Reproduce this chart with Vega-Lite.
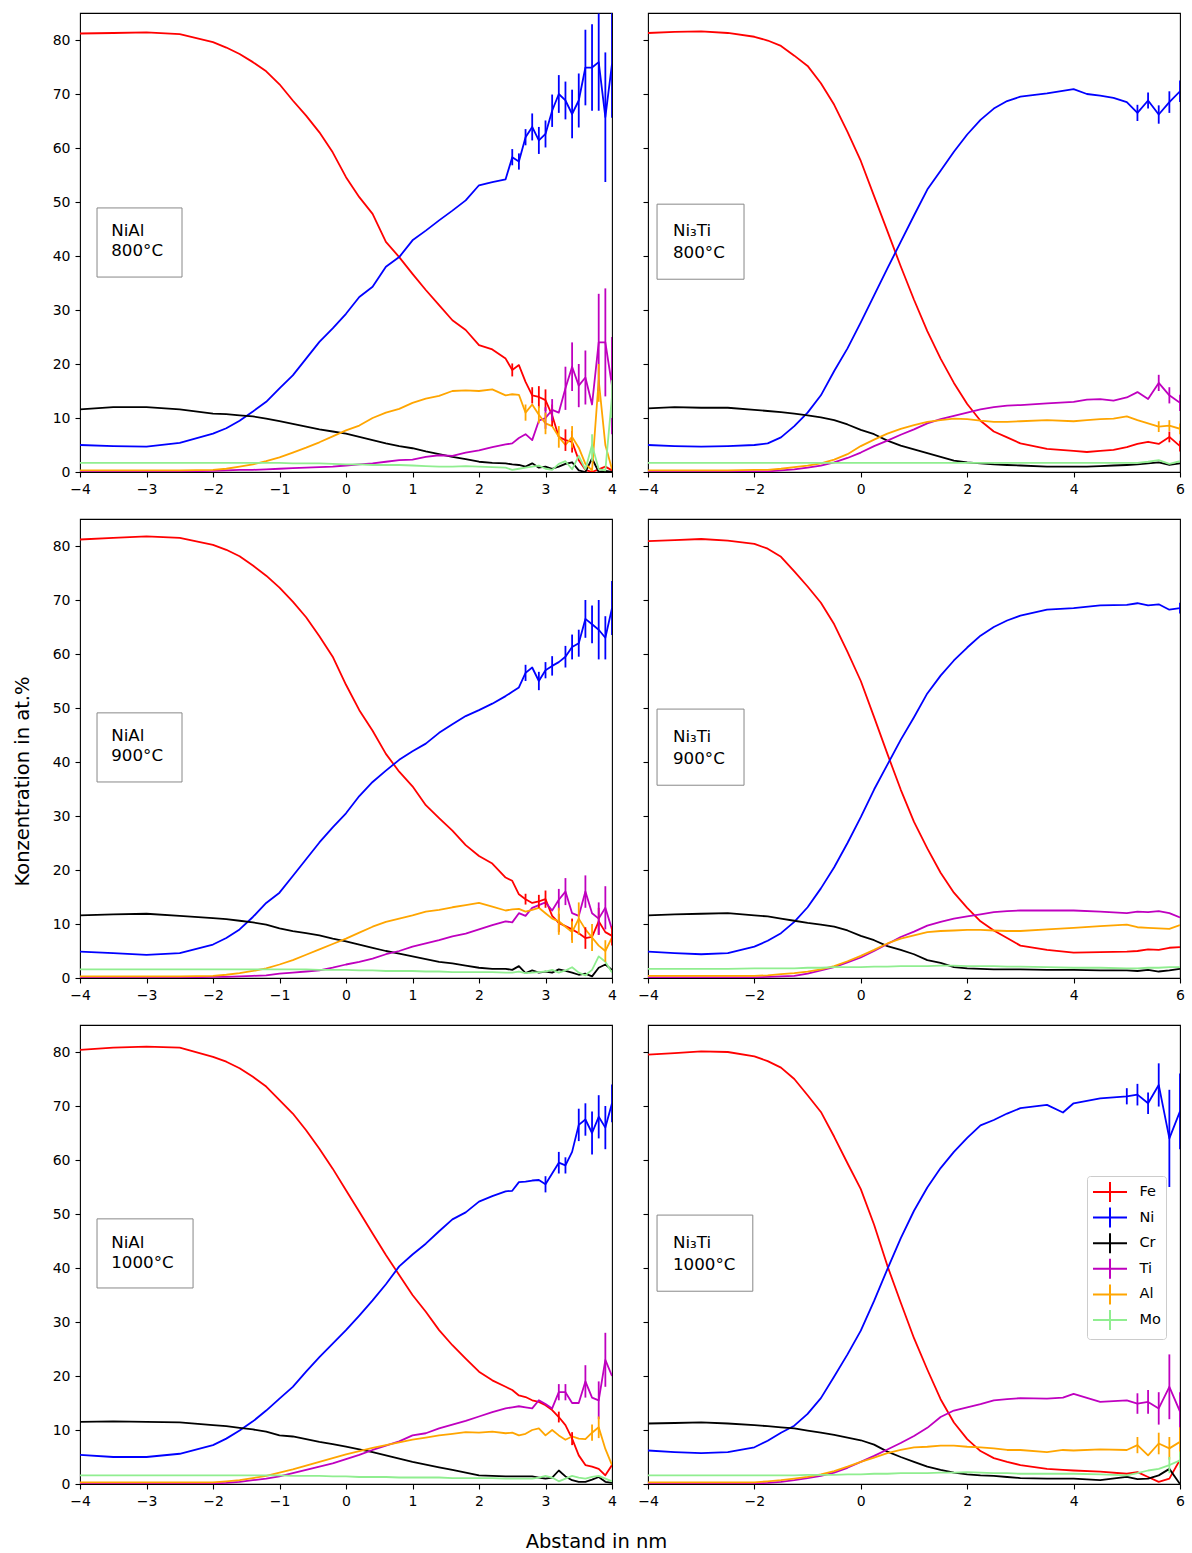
{
"$schema": "https://vega.github.io/schema/vega-lite/v6.json",
"background": "white",
"padding": {"left": 11, "top": 12, "right": 6, "bottom": 1},
"config": {
 "font": "DejaVu Sans",
 "view": {"stroke": "#000", "strokeWidth": 1.1},
 "axis": {"grid": false, "domain": false, "tickColor": "#000", "tickSize": 5, "tickWidth": 1.1, "labelFontSize": 14, "labelColor": "#000", "labelPadding": 5, "labelFlush": false, "labelOverlap": false, "labelBound": false, "titleFontWeight": "normal", "titleColor": "#000", "titleFontSize": 19.5}
},
"datasets": {
 "a": [
  {"x":-4,"Fe":81.2,"Ni":5.0,"Cr":11.6,"Ti":0.1,"Al":0.3,"Mo":1.7},
  {"x":-3.5,"Fe":81.3,"Ni":4.8,"Cr":12.0,"Ti":0.1,"Al":0.3,"Mo":1.7},
  {"x":-3,"Fe":81.4,"Ni":4.7,"Cr":12.0,"Ti":0.1,"Al":0.3,"Mo":1.7},
  {"x":-2.5,"Fe":81.1,"Ni":5.4,"Cr":11.6,"Ti":0.1,"Al":0.3,"Mo":1.7},
  {"x":-2,"Fe":79.6,"Ni":7.1,"Cr":10.8,"Ti":0.2,"Al":0.4,"Mo":1.7},
  {"x":-1.8,"Fe":78.6,"Ni":8.1,"Cr":10.7,"Ti":0.3,"Al":0.6,"Mo":1.7},
  {"x":-1.6,"Fe":77.4,"Ni":9.5,"Cr":10.5,"Ti":0.4,"Al":1.0,"Mo":1.7},
  {"x":-1.4,"Fe":75.9,"Ni":11.2,"Cr":10.3,"Ti":0.4,"Al":1.4,"Mo":1.7},
  {"x":-1.2,"Fe":74.2,"Ni":13.0,"Cr":9.9,"Ti":0.5,"Al":2.0,"Mo":1.7},
  {"x":-1,"Fe":71.8,"Ni":15.5,"Cr":9.4,"Ti":0.6,"Al":2.7,"Mo":1.7},
  {"x":-0.8,"Fe":68.8,"Ni":17.9,"Cr":8.9,"Ti":0.7,"Al":3.6,"Mo":1.6},
  {"x":-0.6,"Fe":66.0,"Ni":21.0,"Cr":8.4,"Ti":0.8,"Al":4.5,"Mo":1.6},
  {"x":-0.4,"Fe":62.9,"Ni":24.1,"Cr":7.9,"Ti":0.9,"Al":5.5,"Mo":1.6},
  {"x":-0.2,"Fe":59.2,"Ni":26.6,"Cr":7.5,"Ti":1.0,"Al":6.6,"Mo":1.5},
  {"x":0,"Fe":54.6,"Ni":29.3,"Cr":7.1,"Ti":1.2,"Al":7.7,"Mo":1.4},
  {"x":0.2,"Fe":50.9,"Ni":32.4,"Cr":6.5,"Ti":1.4,"Al":8.6,"Mo":1.4},
  {"x":0.4,"Fe":47.8,"Ni":34.3,"Cr":5.9,"Ti":1.6,"Al":10.0,"Mo":1.3},
  {"x":0.6,"Fe":42.6,"Ni":38.0,"Cr":5.3,"Ti":1.9,"Al":11.0,"Mo":1.3},
  {"x":0.8,"Fe":39.8,"Ni":39.8,"Cr":4.8,"Ti":2.2,"Al":11.7,"Mo":1.3},
  {"x":1,"Fe":36.7,"Ni":42.9,"Cr":4.4,"Ti":2.3,"Al":12.8,"Mo":1.2},
  {"x":1.2,"Fe":33.7,"Ni":44.7,"Cr":3.8,"Ti":2.8,"Al":13.6,"Mo":1.1},
  {"x":1.4,"Fe":30.9,"Ni":46.6,"Cr":3.3,"Ti":3.1,"Al":14.1,"Mo":1.0},
  {"x":1.6,"Fe":28.1,"Ni":48.4,"Cr":2.8,"Ti":3.0,"Al":15.0,"Mo":1.0},
  {"x":1.8,"Fe":26.3,"Ni":50.3,"Cr":2.4,"Ti":3.6,"Al":15.1,"Mo":1.1},
  {"x":2,"Fe":23.5,"Ni":53.1,"Cr":1.9,"Ti":4.0,"Al":15.0,"Mo":1.0},
  {"x":2.2,"Fe":22.7,"Ni":53.7,"Cr":1.7,"Ti":4.6,"Al":15.3,"Mo":0.9},
  {"x":2.4,"Fe":21.0,"Ni":54.2,"Cr":1.6,"Ti":5.1,"Al":14.2,"Mo":0.8},
  {"x":2.5,"Fe":18.9,"Ni":58.3,"Cr":1.4,"Ti":5.3,"Al":14.4,"Mo":0.4},
  {"x":2.6,"Fe":19.8,"Ni":57.5,"Cr":1.3,"Ti":6.3,"Al":14.3,"Mo":0.6},
  {"x":2.7,"Fe":16.7,"Ni":62.0,"Cr":1.0,"Ti":7.0,"Al":11.0,"Mo":0.8},
  {"x":2.8,"Fe":14.2,"Ni":63.9,"Cr":1.6,"Ti":5.9,"Al":12.5,"Mo":1.0},
  {"x":2.9,"Fe":13.9,"Ni":61.4,"Cr":0.8,"Ti":9.5,"Al":10.6,"Mo":1.2},
  {"x":3,"Fe":13.3,"Ni":62.6,"Cr":1.0,"Ti":10.0,"Al":9.0,"Mo":0.6},
  {"x":3.1,"Fe":10.5,"Ni":66.9,"Cr":0.6,"Ti":11.5,"Al":8.5,"Mo":0.4},
  {"x":3.2,"Fe":6.5,"Ni":70.0,"Cr":1.0,"Ti":11.0,"Al":6.5,"Mo":1.5},
  {"x":3.3,"Fe":5.9,"Ni":68.8,"Cr":1.5,"Ti":15.5,"Al":5.0,"Mo":2.0},
  {"x":3.4,"Fe":5.6,"Ni":66.3,"Cr":1.8,"Ti":19.5,"Al":6.5,"Mo":0.5},
  {"x":3.5,"Fe":2.2,"Ni":68.8,"Cr":0.3,"Ti":16.0,"Al":4.5,"Mo":3.0},
  {"x":3.6,"Fe":0.4,"Ni":74.9,"Cr":0.0,"Ti":17.5,"Al":1.5,"Mo":0.5},
  {"x":3.7,"Fe":0.0,"Ni":74.9,"Cr":2.5,"Ti":12.5,"Al":0.3,"Mo":5.0},
  {"x":3.8,"Fe":0.5,"Ni":75.9,"Cr":0.0,"Ti":24.0,"Al":17.0,"Mo":0.5},
  {"x":3.9,"Fe":1.0,"Ni":65.7,"Cr":0.2,"Ti":24.0,"Al":5.0,"Mo":0.3},
  {"x":4,"Fe":0.3,"Ni":75.6,"Cr":0.0,"Ti":16.0,"Al":0.5,"Mo":14.0}
 ],
 "c": [
  {"x":-4,"Fe":81.2,"Ni":4.9,"Cr":11.6,"Ti":0.1,"Al":0.3,"Mo":1.6},
  {"x":-3.5,"Fe":81.5,"Ni":4.6,"Cr":11.8,"Ti":0.1,"Al":0.3,"Mo":1.6},
  {"x":-3,"Fe":81.8,"Ni":4.3,"Cr":11.9,"Ti":0.1,"Al":0.3,"Mo":1.6},
  {"x":-2.5,"Fe":81.5,"Ni":4.6,"Cr":11.5,"Ti":0.1,"Al":0.3,"Mo":1.6},
  {"x":-2,"Fe":80.2,"Ni":6.2,"Cr":11.1,"Ti":0.2,"Al":0.4,"Mo":1.6},
  {"x":-1.8,"Fe":79.3,"Ni":7.4,"Cr":10.9,"Ti":0.2,"Al":0.6,"Mo":1.6},
  {"x":-1.6,"Fe":78.1,"Ni":9.0,"Cr":10.6,"Ti":0.3,"Al":0.9,"Mo":1.6},
  {"x":-1.4,"Fe":76.4,"Ni":11.3,"Cr":10.3,"Ti":0.4,"Al":1.3,"Mo":1.6},
  {"x":-1.2,"Fe":74.5,"Ni":13.9,"Cr":9.9,"Ti":0.5,"Al":1.8,"Mo":1.6},
  {"x":-1,"Fe":72.3,"Ni":15.8,"Cr":9.2,"Ti":0.8,"Al":2.5,"Mo":1.6},
  {"x":-0.8,"Fe":69.7,"Ni":18.9,"Cr":8.7,"Ti":1.0,"Al":3.3,"Mo":1.6},
  {"x":-0.6,"Fe":66.8,"Ni":22.0,"Cr":8.3,"Ti":1.2,"Al":4.3,"Mo":1.6},
  {"x":-0.4,"Fe":63.3,"Ni":25.1,"Cr":7.9,"Ti":1.4,"Al":5.3,"Mo":1.5},
  {"x":-0.2,"Fe":59.5,"Ni":27.9,"Cr":7.3,"Ti":1.9,"Al":6.3,"Mo":1.5},
  {"x":0,"Fe":54.3,"Ni":30.5,"Cr":6.8,"Ti":2.5,"Al":7.3,"Mo":1.5},
  {"x":0.2,"Fe":49.6,"Ni":33.7,"Cr":6.2,"Ti":3.0,"Al":8.4,"Mo":1.4},
  {"x":0.4,"Fe":45.8,"Ni":36.3,"Cr":5.6,"Ti":3.6,"Al":9.5,"Mo":1.4},
  {"x":0.6,"Fe":41.5,"Ni":38.4,"Cr":5.0,"Ti":4.4,"Al":10.4,"Mo":1.3},
  {"x":0.8,"Fe":38.2,"Ni":40.4,"Cr":4.5,"Ti":5.0,"Al":11.0,"Mo":1.3},
  {"x":1,"Fe":35.5,"Ni":42.0,"Cr":4.0,"Ti":5.8,"Al":11.6,"Mo":1.3},
  {"x":1.2,"Fe":32.0,"Ni":43.4,"Cr":3.5,"Ti":6.4,"Al":12.3,"Mo":1.2},
  {"x":1.4,"Fe":29.6,"Ni":45.4,"Cr":3.0,"Ti":7.0,"Al":12.6,"Mo":1.2},
  {"x":1.6,"Fe":27.3,"Ni":47.0,"Cr":2.7,"Ti":7.7,"Al":13.1,"Mo":1.1},
  {"x":1.8,"Fe":24.6,"Ni":48.5,"Cr":2.3,"Ti":8.2,"Al":13.5,"Mo":1.1},
  {"x":2,"Fe":22.6,"Ni":49.6,"Cr":1.9,"Ti":9.0,"Al":13.9,"Mo":1.1},
  {"x":2.2,"Fe":21.2,"Ni":50.8,"Cr":1.7,"Ti":9.8,"Al":13.2,"Mo":1.1},
  {"x":2.4,"Fe":18.6,"Ni":52.2,"Cr":1.7,"Ti":10.5,"Al":12.5,"Mo":1.0},
  {"x":2.5,"Fe":18.0,"Ni":53.0,"Cr":1.5,"Ti":10.3,"Al":12.7,"Mo":1.0},
  {"x":2.6,"Fe":15.5,"Ni":53.8,"Cr":2.2,"Ti":12.0,"Al":12.8,"Mo":1.2},
  {"x":2.7,"Fe":14.6,"Ni":56.5,"Cr":0.9,"Ti":11.5,"Al":12.3,"Mo":0.9},
  {"x":2.8,"Fe":13.9,"Ni":57.5,"Cr":1.4,"Ti":13.0,"Al":12.6,"Mo":1.0},
  {"x":2.9,"Fe":14.2,"Ni":55.0,"Cr":1.0,"Ti":13.5,"Al":13.0,"Mo":1.1},
  {"x":3,"Fe":14.6,"Ni":57.0,"Cr":1.2,"Ti":14.0,"Al":12.0,"Mo":1.2},
  {"x":3.1,"Fe":11.5,"Ni":57.8,"Cr":1.0,"Ti":12.5,"Al":11.0,"Mo":1.5},
  {"x":3.2,"Fe":10.2,"Ni":58.5,"Cr":1.6,"Ti":14.5,"Al":10.5,"Mo":1.0},
  {"x":3.3,"Fe":9.6,"Ni":59.5,"Cr":1.3,"Ti":16.0,"Al":9.5,"Mo":1.4},
  {"x":3.4,"Fe":9.0,"Ni":61.3,"Cr":1.0,"Ti":12.0,"Al":8.5,"Mo":2.0},
  {"x":3.5,"Fe":8.3,"Ni":62.0,"Cr":0.6,"Ti":11.5,"Al":11.0,"Mo":1.0},
  {"x":3.6,"Fe":7.4,"Ni":66.5,"Cr":0.8,"Ti":16.0,"Al":9.0,"Mo":0.5},
  {"x":3.7,"Fe":7.6,"Ni":65.5,"Cr":0.3,"Ti":12.0,"Al":7.5,"Mo":1.5},
  {"x":3.8,"Fe":10.5,"Ni":64.5,"Cr":1.9,"Ti":11.0,"Al":6.0,"Mo":4.0},
  {"x":3.9,"Fe":8.5,"Ni":63.0,"Cr":2.5,"Ti":13.0,"Al":5.0,"Mo":3.0},
  {"x":4,"Fe":7.8,"Ni":68.5,"Cr":1.5,"Ti":9.0,"Al":7.5,"Mo":1.0}
 ],
 "e": [
  {"x":-4,"Fe":80.4,"Ni":5.4,"Cr":11.5,"Ti":0.1,"Al":0.3,"Mo":1.6},
  {"x":-3.5,"Fe":80.8,"Ni":5.0,"Cr":11.6,"Ti":0.1,"Al":0.3,"Mo":1.6},
  {"x":-3,"Fe":81.0,"Ni":5.0,"Cr":11.5,"Ti":0.1,"Al":0.3,"Mo":1.6},
  {"x":-2.5,"Fe":80.8,"Ni":5.6,"Cr":11.4,"Ti":0.1,"Al":0.3,"Mo":1.6},
  {"x":-2,"Fe":79.1,"Ni":7.2,"Cr":10.9,"Ti":0.1,"Al":0.3,"Mo":1.6},
  {"x":-1.8,"Fe":78.2,"Ni":8.4,"Cr":10.7,"Ti":0.2,"Al":0.5,"Mo":1.6},
  {"x":-1.6,"Fe":77.0,"Ni":9.9,"Cr":10.4,"Ti":0.4,"Al":0.7,"Mo":1.6},
  {"x":-1.4,"Fe":75.4,"Ni":11.6,"Cr":10.1,"Ti":0.7,"Al":1.1,"Mo":1.6},
  {"x":-1.2,"Fe":73.6,"Ni":13.6,"Cr":9.7,"Ti":1.0,"Al":1.5,"Mo":1.6},
  {"x":-1,"Fe":71.1,"Ni":15.8,"Cr":9.0,"Ti":1.4,"Al":2.1,"Mo":1.6},
  {"x":-0.8,"Fe":68.6,"Ni":18.0,"Cr":8.8,"Ti":2.0,"Al":2.7,"Mo":1.5},
  {"x":-0.6,"Fe":65.5,"Ni":20.8,"Cr":8.3,"Ti":2.6,"Al":3.4,"Mo":1.5},
  {"x":-0.4,"Fe":62.1,"Ni":23.5,"Cr":7.8,"Ti":3.2,"Al":4.1,"Mo":1.5},
  {"x":-0.2,"Fe":58.4,"Ni":26.0,"Cr":7.4,"Ti":3.8,"Al":4.8,"Mo":1.4},
  {"x":0,"Fe":54.4,"Ni":28.5,"Cr":6.9,"Ti":4.6,"Al":5.5,"Mo":1.4},
  {"x":0.2,"Fe":50.4,"Ni":31.2,"Cr":6.4,"Ti":5.4,"Al":6.1,"Mo":1.3},
  {"x":0.4,"Fe":46.4,"Ni":34.0,"Cr":5.9,"Ti":6.3,"Al":6.7,"Mo":1.3},
  {"x":0.6,"Fe":42.4,"Ni":37.0,"Cr":5.3,"Ti":7.1,"Al":7.2,"Mo":1.3},
  {"x":0.8,"Fe":38.7,"Ni":40.3,"Cr":4.7,"Ti":7.9,"Al":7.7,"Mo":1.2},
  {"x":1,"Fe":35.0,"Ni":42.5,"Cr":4.1,"Ti":9.0,"Al":8.2,"Mo":1.2},
  {"x":1.2,"Fe":31.9,"Ni":44.5,"Cr":3.6,"Ti":9.4,"Al":8.6,"Mo":1.2},
  {"x":1.4,"Fe":28.5,"Ni":46.8,"Cr":3.1,"Ti":10.3,"Al":9.0,"Mo":1.2},
  {"x":1.6,"Fe":25.7,"Ni":49.0,"Cr":2.6,"Ti":11.0,"Al":9.3,"Mo":1.1},
  {"x":1.8,"Fe":23.2,"Ni":50.3,"Cr":2.1,"Ti":11.7,"Al":9.6,"Mo":1.1},
  {"x":2,"Fe":20.8,"Ni":52.3,"Cr":1.6,"Ti":12.5,"Al":9.5,"Mo":1.1},
  {"x":2.2,"Fe":19.2,"Ni":53.3,"Cr":1.5,"Ti":13.3,"Al":9.7,"Mo":1.1},
  {"x":2.4,"Fe":18.0,"Ni":54.2,"Cr":1.4,"Ti":14.0,"Al":9.4,"Mo":1.0},
  {"x":2.5,"Fe":17.4,"Ni":54.3,"Cr":1.4,"Ti":14.2,"Al":9.5,"Mo":1.0},
  {"x":2.6,"Fe":16.4,"Ni":55.9,"Cr":1.4,"Ti":14.4,"Al":9.0,"Mo":1.0},
  {"x":2.7,"Fe":16.1,"Ni":56.0,"Cr":1.4,"Ti":14.2,"Al":9.3,"Mo":1.0},
  {"x":2.8,"Fe":15.5,"Ni":56.2,"Cr":1.4,"Ti":14.0,"Al":10.0,"Mo":1.0},
  {"x":2.9,"Fe":15.2,"Ni":56.3,"Cr":1.2,"Ti":15.5,"Al":10.3,"Mo":1.2},
  {"x":3,"Fe":14.6,"Ni":55.5,"Cr":1.0,"Ti":14.8,"Al":9.0,"Mo":1.5},
  {"x":3.1,"Fe":13.7,"Ni":57.5,"Cr":1.2,"Ti":14.0,"Al":10.0,"Mo":1.2},
  {"x":3.2,"Fe":12.4,"Ni":59.5,"Cr":2.5,"Ti":17.0,"Al":9.0,"Mo":0.5},
  {"x":3.3,"Fe":10.9,"Ni":59.0,"Cr":1.4,"Ti":17.0,"Al":8.2,"Mo":1.0},
  {"x":3.4,"Fe":8.4,"Ni":61.5,"Cr":0.7,"Ti":15.0,"Al":8.8,"Mo":1.5},
  {"x":3.5,"Fe":5.3,"Ni":66.5,"Cr":0.4,"Ti":15.0,"Al":8.4,"Mo":1.2},
  {"x":3.6,"Fe":3.5,"Ni":67.5,"Cr":0.4,"Ti":19.0,"Al":8.3,"Mo":1.0},
  {"x":3.7,"Fe":3.2,"Ni":65.0,"Cr":0.8,"Ti":16.0,"Al":9.5,"Mo":1.3},
  {"x":3.8,"Fe":2.8,"Ni":68.0,"Cr":1.3,"Ti":15.5,"Al":10.5,"Mo":1.5},
  {"x":3.9,"Fe":1.6,"Ni":66.0,"Cr":0.4,"Ti":23.0,"Al":6.5,"Mo":1.0},
  {"x":4,"Fe":3.5,"Ni":70.5,"Cr":0.2,"Ti":20.0,"Al":3.5,"Mo":0.5}
 ],
 "b": [
  {"x":-4,"Fe":81.3,"Ni":5.0,"Cr":11.8,"Ti":0.1,"Al":0.3,"Mo":1.7},
  {"x":-3.5,"Fe":81.5,"Ni":4.8,"Cr":12.0,"Ti":0.1,"Al":0.3,"Mo":1.7},
  {"x":-3,"Fe":81.6,"Ni":4.7,"Cr":11.9,"Ti":0.1,"Al":0.3,"Mo":1.7},
  {"x":-2.5,"Fe":81.3,"Ni":4.8,"Cr":11.9,"Ti":0.1,"Al":0.3,"Mo":1.7},
  {"x":-2,"Fe":80.6,"Ni":5.0,"Cr":11.5,"Ti":0.1,"Al":0.4,"Mo":1.7},
  {"x":-1.75,"Fe":79.9,"Ni":5.3,"Cr":11.3,"Ti":0.1,"Al":0.4,"Mo":1.7},
  {"x":-1.5,"Fe":78.9,"Ni":6.4,"Cr":11.1,"Ti":0.3,"Al":0.6,"Mo":1.7},
  {"x":-1.25,"Fe":77.1,"Ni":8.5,"Cr":10.8,"Ti":0.5,"Al":0.9,"Mo":1.7},
  {"x":-1,"Fe":75.2,"Ni":11.0,"Cr":10.5,"Ti":0.8,"Al":1.2,"Mo":1.7},
  {"x":-0.75,"Fe":72.0,"Ni":14.2,"Cr":10.1,"Ti":1.2,"Al":1.6,"Mo":1.7},
  {"x":-0.5,"Fe":68.0,"Ni":18.7,"Cr":9.6,"Ti":1.8,"Al":2.3,"Mo":1.7},
  {"x":-0.25,"Fe":63.0,"Ni":22.9,"Cr":8.8,"Ti":2.6,"Al":3.3,"Mo":1.7},
  {"x":0,"Fe":57.6,"Ni":27.7,"Cr":7.8,"Ti":3.6,"Al":4.8,"Mo":1.7},
  {"x":0.25,"Fe":51.1,"Ni":32.7,"Cr":7.0,"Ti":4.8,"Al":6.0,"Mo":1.7},
  {"x":0.5,"Fe":44.6,"Ni":37.7,"Cr":5.8,"Ti":5.8,"Al":7.1,"Mo":1.7},
  {"x":0.75,"Fe":38.1,"Ni":42.6,"Cr":4.9,"Ti":6.9,"Al":8.0,"Mo":1.7},
  {"x":1,"Fe":31.9,"Ni":47.5,"Cr":4.2,"Ti":7.9,"Al":8.7,"Mo":1.7},
  {"x":1.25,"Fe":26.1,"Ni":52.3,"Cr":3.5,"Ti":9.0,"Al":9.3,"Mo":1.7},
  {"x":1.5,"Fe":21.0,"Ni":55.8,"Cr":2.8,"Ti":9.8,"Al":9.6,"Mo":1.7},
  {"x":1.75,"Fe":16.5,"Ni":59.3,"Cr":2.1,"Ti":10.4,"Al":9.9,"Mo":1.7},
  {"x":2,"Fe":12.6,"Ni":62.5,"Cr":1.8,"Ti":11.0,"Al":9.8,"Mo":1.7},
  {"x":2.25,"Fe":9.5,"Ni":65.2,"Cr":1.6,"Ti":11.6,"Al":9.5,"Mo":1.7},
  {"x":2.5,"Fe":7.5,"Ni":67.3,"Cr":1.4,"Ti":12.0,"Al":9.3,"Mo":1.7},
  {"x":2.75,"Fe":6.4,"Ni":68.7,"Cr":1.3,"Ti":12.3,"Al":9.3,"Mo":1.7},
  {"x":3,"Fe":5.3,"Ni":69.5,"Cr":1.2,"Ti":12.4,"Al":9.4,"Mo":1.7},
  {"x":3.5,"Fe":4.3,"Ni":70.1,"Cr":1.0,"Ti":12.7,"Al":9.6,"Mo":1.7},
  {"x":4,"Fe":3.9,"Ni":70.9,"Cr":1.0,"Ti":13.0,"Al":9.4,"Mo":1.7},
  {"x":4.25,"Fe":3.7,"Ni":70.0,"Cr":1.0,"Ti":13.4,"Al":9.6,"Mo":1.7},
  {"x":4.5,"Fe":3.9,"Ni":69.7,"Cr":1.1,"Ti":13.5,"Al":9.8,"Mo":1.7},
  {"x":4.75,"Fe":4.1,"Ni":69.3,"Cr":1.2,"Ti":13.2,"Al":9.9,"Mo":1.7},
  {"x":5,"Fe":4.6,"Ni":68.5,"Cr":1.3,"Ti":13.8,"Al":10.3,"Mo":1.7},
  {"x":5.2,"Fe":5.2,"Ni":66.5,"Cr":1.4,"Ti":14.8,"Al":9.6,"Mo":1.7},
  {"x":5.4,"Fe":5.6,"Ni":68.8,"Cr":1.6,"Ti":13.5,"Al":9.0,"Mo":1.9},
  {"x":5.6,"Fe":5.2,"Ni":66.2,"Cr":1.8,"Ti":16.5,"Al":8.4,"Mo":2.2},
  {"x":5.8,"Fe":6.5,"Ni":68.5,"Cr":1.3,"Ti":14.2,"Al":8.6,"Mo":1.5},
  {"x":6,"Fe":4.8,"Ni":70.5,"Cr":1.6,"Ti":12.8,"Al":8.0,"Mo":2.0}
 ],
 "d": [
  {"x":-4,"Fe":80.9,"Ni":4.9,"Cr":11.6,"Ti":0.1,"Al":0.4,"Mo":1.7},
  {"x":-3.5,"Fe":81.1,"Ni":4.6,"Cr":11.8,"Ti":0.1,"Al":0.4,"Mo":1.7},
  {"x":-3,"Fe":81.3,"Ni":4.4,"Cr":11.9,"Ti":0.1,"Al":0.4,"Mo":1.7},
  {"x":-2.5,"Fe":81.0,"Ni":4.6,"Cr":12.0,"Ti":0.1,"Al":0.4,"Mo":1.7},
  {"x":-2,"Fe":80.4,"Ni":5.8,"Cr":11.6,"Ti":0.1,"Al":0.4,"Mo":1.8},
  {"x":-1.75,"Fe":79.5,"Ni":6.9,"Cr":11.4,"Ti":0.2,"Al":0.5,"Mo":1.8},
  {"x":-1.5,"Fe":78.0,"Ni":8.3,"Cr":11.0,"Ti":0.3,"Al":0.7,"Mo":1.8},
  {"x":-1.25,"Fe":75.3,"Ni":10.4,"Cr":10.6,"Ti":0.4,"Al":0.9,"Mo":1.8},
  {"x":-1,"Fe":72.5,"Ni":13.1,"Cr":10.2,"Ti":0.8,"Al":1.2,"Mo":1.9},
  {"x":-0.75,"Fe":69.5,"Ni":16.6,"Cr":9.9,"Ti":1.4,"Al":1.6,"Mo":1.9},
  {"x":-0.5,"Fe":65.5,"Ni":20.5,"Cr":9.5,"Ti":2.0,"Al":2.2,"Mo":2.0},
  {"x":-0.25,"Fe":60.4,"Ni":25.0,"Cr":8.8,"Ti":2.9,"Al":3.1,"Mo":2.0},
  {"x":0,"Fe":55.0,"Ni":29.8,"Cr":7.8,"Ti":3.8,"Al":4.1,"Mo":2.0},
  {"x":0.25,"Fe":48.3,"Ni":34.9,"Cr":7.0,"Ti":5.0,"Al":5.2,"Mo":2.1},
  {"x":0.5,"Fe":41.5,"Ni":39.5,"Cr":5.9,"Ti":6.3,"Al":6.4,"Mo":2.1},
  {"x":0.75,"Fe":34.9,"Ni":44.1,"Cr":5.2,"Ti":7.6,"Al":7.3,"Mo":2.2},
  {"x":1,"Fe":28.9,"Ni":48.3,"Cr":4.4,"Ti":8.6,"Al":7.9,"Mo":2.2},
  {"x":1.25,"Fe":24.0,"Ni":52.7,"Cr":3.3,"Ti":9.7,"Al":8.5,"Mo":2.2},
  {"x":1.5,"Fe":19.5,"Ni":56.0,"Cr":2.8,"Ti":10.4,"Al":8.7,"Mo":2.3},
  {"x":1.75,"Fe":15.8,"Ni":58.8,"Cr":2.0,"Ti":11.0,"Al":8.8,"Mo":2.3},
  {"x":2,"Fe":13.0,"Ni":61.2,"Cr":1.8,"Ti":11.4,"Al":8.9,"Mo":2.2},
  {"x":2.25,"Fe":10.5,"Ni":63.4,"Cr":1.7,"Ti":11.8,"Al":8.9,"Mo":2.2},
  {"x":2.5,"Fe":8.8,"Ni":65.0,"Cr":1.6,"Ti":12.2,"Al":8.8,"Mo":2.2},
  {"x":2.75,"Fe":7.4,"Ni":66.2,"Cr":1.6,"Ti":12.4,"Al":8.7,"Mo":2.1},
  {"x":3,"Fe":6.0,"Ni":67.1,"Cr":1.6,"Ti":12.5,"Al":8.7,"Mo":2.1},
  {"x":3.5,"Fe":5.2,"Ni":68.2,"Cr":1.5,"Ti":12.5,"Al":9.0,"Mo":2.0},
  {"x":4,"Fe":4.7,"Ni":68.5,"Cr":1.5,"Ti":12.5,"Al":9.3,"Mo":1.9},
  {"x":4.5,"Fe":4.8,"Ni":69.0,"Cr":1.4,"Ti":12.3,"Al":9.6,"Mo":1.9},
  {"x":5,"Fe":4.9,"Ni":69.1,"Cr":1.4,"Ti":12.0,"Al":9.9,"Mo":1.8},
  {"x":5.2,"Fe":5.0,"Ni":69.4,"Cr":1.3,"Ti":12.3,"Al":9.4,"Mo":1.8},
  {"x":5.4,"Fe":5.3,"Ni":69.0,"Cr":1.5,"Ti":12.2,"Al":9.3,"Mo":1.9},
  {"x":5.6,"Fe":5.2,"Ni":69.2,"Cr":1.2,"Ti":12.4,"Al":9.2,"Mo":1.9},
  {"x":5.8,"Fe":5.6,"Ni":68.2,"Cr":1.4,"Ti":12.0,"Al":9.1,"Mo":2.0},
  {"x":6,"Fe":5.7,"Ni":68.5,"Cr":1.7,"Ti":11.2,"Al":9.8,"Mo":2.0}
 ],
 "f": [
  {"x":-4,"Fe":79.5,"Ni":6.2,"Cr":11.2,"Ti":0.1,"Al":0.3,"Mo":1.6},
  {"x":-3.5,"Fe":79.8,"Ni":5.9,"Cr":11.3,"Ti":0.1,"Al":0.3,"Mo":1.6},
  {"x":-3,"Fe":80.1,"Ni":5.7,"Cr":11.4,"Ti":0.1,"Al":0.3,"Mo":1.6},
  {"x":-2.5,"Fe":80.0,"Ni":5.9,"Cr":11.2,"Ti":0.1,"Al":0.3,"Mo":1.6},
  {"x":-2,"Fe":79.2,"Ni":6.8,"Cr":10.9,"Ti":0.1,"Al":0.3,"Mo":1.6},
  {"x":-1.75,"Fe":78.3,"Ni":8.0,"Cr":10.7,"Ti":0.2,"Al":0.5,"Mo":1.6},
  {"x":-1.5,"Fe":77.1,"Ni":9.5,"Cr":10.5,"Ti":0.4,"Al":0.7,"Mo":1.6},
  {"x":-1.25,"Fe":75.0,"Ni":10.8,"Cr":10.3,"Ti":0.7,"Al":1.0,"Mo":1.6},
  {"x":-1,"Fe":72.0,"Ni":13.0,"Cr":9.9,"Ti":1.1,"Al":1.3,"Mo":1.7},
  {"x":-0.75,"Fe":68.9,"Ni":15.9,"Cr":9.5,"Ti":1.5,"Al":1.8,"Mo":1.7},
  {"x":-0.5,"Fe":64.3,"Ni":19.9,"Cr":9.1,"Ti":2.1,"Al":2.4,"Mo":1.7},
  {"x":-0.25,"Fe":59.4,"Ni":24.0,"Cr":8.6,"Ti":3.0,"Al":3.2,"Mo":1.8},
  {"x":0,"Fe":54.6,"Ni":28.4,"Cr":8.1,"Ti":4.1,"Al":4.1,"Mo":1.8},
  {"x":0.25,"Fe":48.0,"Ni":33.9,"Cr":7.3,"Ti":5.2,"Al":4.9,"Mo":1.9},
  {"x":0.5,"Fe":40.4,"Ni":39.8,"Cr":6.0,"Ti":6.4,"Al":5.7,"Mo":1.9},
  {"x":0.75,"Fe":33.6,"Ni":45.5,"Cr":5.0,"Ti":7.6,"Al":6.3,"Mo":2.0},
  {"x":1,"Fe":27.0,"Ni":50.6,"Cr":4.1,"Ti":8.9,"Al":6.8,"Mo":2.0},
  {"x":1.25,"Fe":21.2,"Ni":54.9,"Cr":3.2,"Ti":10.4,"Al":6.9,"Mo":2.0},
  {"x":1.5,"Fe":15.7,"Ni":58.5,"Cr":2.6,"Ti":12.4,"Al":7.1,"Mo":2.1},
  {"x":1.75,"Fe":11.4,"Ni":61.5,"Cr":2.1,"Ti":13.6,"Al":7.1,"Mo":2.1},
  {"x":2,"Fe":8.3,"Ni":64.1,"Cr":1.8,"Ti":14.2,"Al":6.9,"Mo":2.2},
  {"x":2.25,"Fe":6.1,"Ni":66.4,"Cr":1.6,"Ti":14.8,"Al":6.8,"Mo":2.1},
  {"x":2.5,"Fe":4.8,"Ni":67.4,"Cr":1.5,"Ti":15.5,"Al":6.6,"Mo":2.0},
  {"x":2.75,"Fe":4.1,"Ni":68.6,"Cr":1.3,"Ti":15.7,"Al":6.3,"Mo":2.0},
  {"x":3,"Fe":3.5,"Ni":69.6,"Cr":1.1,"Ti":15.9,"Al":6.3,"Mo":1.9},
  {"x":3.5,"Fe":2.8,"Ni":70.2,"Cr":1.0,"Ti":15.8,"Al":5.9,"Mo":1.9},
  {"x":3.8,"Fe":2.6,"Ni":68.8,"Cr":1.0,"Ti":16.0,"Al":6.3,"Mo":1.9},
  {"x":4,"Fe":2.5,"Ni":70.5,"Cr":1.0,"Ti":16.7,"Al":6.2,"Mo":1.9},
  {"x":4.5,"Fe":2.3,"Ni":71.4,"Cr":0.7,"Ti":15.2,"Al":6.4,"Mo":1.8},
  {"x":5,"Fe":1.9,"Ni":71.8,"Cr":1.3,"Ti":15.5,"Al":6.3,"Mo":1.6},
  {"x":5.2,"Fe":2.2,"Ni":72.1,"Cr":0.9,"Ti":14.9,"Al":7.2,"Mo":2.0},
  {"x":5.4,"Fe":1.3,"Ni":70.5,"Cr":1.0,"Ti":15.2,"Al":5.3,"Mo":2.5},
  {"x":5.6,"Fe":0.4,"Ni":73.9,"Cr":1.6,"Ti":14.0,"Al":7.5,"Mo":2.8},
  {"x":5.8,"Fe":1.0,"Ni":64.0,"Cr":2.8,"Ti":18.0,"Al":6.6,"Mo":3.5},
  {"x":6,"Fe":4.5,"Ni":69.0,"Cr":0.0,"Ti":13.4,"Al":7.8,"Mo":4.4}
 ],
 "err": [
  {"p":"a","s":"Ni","x":2.5,"lo":56.8,"hi":59.8},{"p":"a","s":"Ni","x":2.6,"lo":56.0,"hi":59.0},{"p":"a","s":"Ni","x":2.7,"lo":60.5,"hi":63.5},{"p":"a","s":"Ni","x":2.8,"lo":61.4,"hi":66.4},{"p":"a","s":"Ni","x":2.9,"lo":58.9,"hi":63.9},{"p":"a","s":"Ni","x":3.0,"lo":60.1,"hi":65.1},{"p":"a","s":"Ni","x":3.1,"lo":63.9,"hi":69.9},{"p":"a","s":"Ni","x":3.2,"lo":66.5,"hi":73.5},{"p":"a","s":"Ni","x":3.3,"lo":65.3,"hi":72.3},{"p":"a","s":"Ni","x":3.4,"lo":61.8,"hi":70.8},{"p":"a","s":"Ni","x":3.5,"lo":63.8,"hi":73.8},{"p":"a","s":"Ni","x":3.6,"lo":67.9,"hi":81.9},{"p":"a","s":"Ni","x":3.7,"lo":66.9,"hi":82.9},{"p":"a","s":"Ni","x":3.8,"lo":66.9,"hi":84.9},{"p":"a","s":"Ni","x":3.9,"lo":53.7,"hi":77.7},{"p":"a","s":"Ni","x":4.0,"lo":65.6,"hi":88},
  {"p":"a","s":"Fe","x":2.5,"lo":17.7,"hi":20.1},{"p":"a","s":"Fe","x":2.8,"lo":12.7,"hi":15.7},{"p":"a","s":"Fe","x":2.9,"lo":11.9,"hi":15.9},{"p":"a","s":"Fe","x":3.0,"lo":11.3,"hi":15.3},{"p":"a","s":"Fe","x":3.1,"lo":8.5,"hi":12.5},{"p":"a","s":"Fe","x":3.3,"lo":3.9,"hi":7.9},{"p":"a","s":"Fe","x":3.4,"lo":3.6,"hi":7.6},
  {"p":"a","s":"Ti","x":3.0,"lo":8,"hi":12},{"p":"a","s":"Ti","x":3.1,"lo":9.5,"hi":13.5},{"p":"a","s":"Ti","x":3.3,"lo":11.5,"hi":19.5},{"p":"a","s":"Ti","x":3.4,"lo":15,"hi":24},{"p":"a","s":"Ti","x":3.5,"lo":12,"hi":20},{"p":"a","s":"Ti","x":3.6,"lo":12.5,"hi":22.5},{"p":"a","s":"Ti","x":3.8,"lo":15,"hi":33},{"p":"a","s":"Ti","x":3.9,"lo":14,"hi":34},{"p":"a","s":"Ti","x":4.0,"lo":7,"hi":25},
  {"p":"a","s":"Al","x":2.7,"lo":9.5,"hi":12.5},{"p":"a","s":"Al","x":2.9,"lo":9,"hi":12.2},{"p":"a","s":"Al","x":3.0,"lo":7,"hi":11},{"p":"a","s":"Al","x":3.2,"lo":4.5,"hi":8.5},{"p":"a","s":"Al","x":3.4,"lo":4.5,"hi":8.5},{"p":"a","s":"Al","x":3.8,"lo":13,"hi":20},
  {"p":"a","s":"Mo","x":3.7,"lo":2,"hi":7},{"p":"a","s":"Mo","x":4.0,"lo":10,"hi":17},
  {"p":"b","s":"Ni","x":5.2,"lo":65,"hi":68},{"p":"b","s":"Ni","x":5.4,"lo":67.3,"hi":70.3},{"p":"b","s":"Ni","x":5.6,"lo":64.5,"hi":67.9},{"p":"b","s":"Ni","x":5.8,"lo":66.5,"hi":70.5},{"p":"b","s":"Ni","x":6,"lo":68.5,"hi":72.5},
  {"p":"b","s":"Ti","x":5.6,"lo":15,"hi":18},{"p":"b","s":"Ti","x":5.8,"lo":12.7,"hi":15.7},{"p":"b","s":"Ti","x":6,"lo":11.3,"hi":14.3},
  {"p":"b","s":"Al","x":5.6,"lo":7.4,"hi":9.4},{"p":"b","s":"Al","x":5.8,"lo":7.6,"hi":9.6},{"p":"b","s":"Al","x":6,"lo":7,"hi":9},
  {"p":"b","s":"Fe","x":5.8,"lo":5.5,"hi":7.5},{"p":"b","s":"Fe","x":6,"lo":3.8,"hi":5.8},
  {"p":"c","s":"Ni","x":2.7,"lo":55,"hi":58},{"p":"c","s":"Ni","x":2.9,"lo":53.3,"hi":56.7},{"p":"c","s":"Ni","x":3.0,"lo":55.5,"hi":58.5},{"p":"c","s":"Ni","x":3.1,"lo":56,"hi":59.6},{"p":"c","s":"Ni","x":3.3,"lo":57.5,"hi":61.5},{"p":"c","s":"Ni","x":3.4,"lo":59,"hi":63.6},{"p":"c","s":"Ni","x":3.5,"lo":59.5,"hi":64.5},{"p":"c","s":"Ni","x":3.6,"lo":63,"hi":70},{"p":"c","s":"Ni","x":3.7,"lo":62,"hi":69},{"p":"c","s":"Ni","x":3.8,"lo":59,"hi":70},{"p":"c","s":"Ni","x":3.9,"lo":59,"hi":67},{"p":"c","s":"Ni","x":4.0,"lo":63.5,"hi":73.5},
  {"p":"c","s":"Fe","x":2.7,"lo":13.6,"hi":15.6},{"p":"c","s":"Fe","x":2.9,"lo":13,"hi":15.4},{"p":"c","s":"Fe","x":3.0,"lo":13,"hi":16.2},{"p":"c","s":"Fe","x":3.2,"lo":8.5,"hi":11.9},{"p":"c","s":"Fe","x":3.4,"lo":7,"hi":11},{"p":"c","s":"Fe","x":3.6,"lo":5.4,"hi":9.4},{"p":"c","s":"Fe","x":3.8,"lo":8,"hi":13},{"p":"c","s":"Fe","x":4.0,"lo":6,"hi":9.6},
  {"p":"c","s":"Ti","x":3.2,"lo":12.5,"hi":16.5},{"p":"c","s":"Ti","x":3.3,"lo":13.5,"hi":18.5},{"p":"c","s":"Ti","x":3.6,"lo":13,"hi":19},{"p":"c","s":"Ti","x":3.8,"lo":8,"hi":14},{"p":"c","s":"Ti","x":3.9,"lo":9,"hi":17},
  {"p":"c","s":"Al","x":3.2,"lo":8,"hi":13},{"p":"c","s":"Al","x":3.4,"lo":6.5,"hi":10.5},{"p":"c","s":"Al","x":3.5,"lo":8,"hi":14},{"p":"c","s":"Al","x":3.7,"lo":5,"hi":10},{"p":"c","s":"Al","x":3.9,"lo":3,"hi":7},
  {"p":"d","s":"Ni","x":6,"lo":67.5,"hi":69.5},
  {"p":"e","s":"Ni","x":3.0,"lo":54,"hi":57},{"p":"e","s":"Ni","x":3.2,"lo":57.5,"hi":61.5},{"p":"e","s":"Ni","x":3.3,"lo":57.5,"hi":60.5},{"p":"e","s":"Ni","x":3.5,"lo":63.5,"hi":69.5},{"p":"e","s":"Ni","x":3.6,"lo":64.5,"hi":70.5},{"p":"e","s":"Ni","x":3.7,"lo":61,"hi":69},{"p":"e","s":"Ni","x":3.8,"lo":64,"hi":72},{"p":"e","s":"Ni","x":3.9,"lo":62,"hi":70},{"p":"e","s":"Ni","x":4.0,"lo":67,"hi":74},
  {"p":"e","s":"Ti","x":3.2,"lo":15.5,"hi":18.5},{"p":"e","s":"Ti","x":3.3,"lo":15.5,"hi":18.5},{"p":"e","s":"Ti","x":3.6,"lo":16,"hi":22},{"p":"e","s":"Ti","x":3.8,"lo":12,"hi":19},{"p":"e","s":"Ti","x":3.9,"lo":18,"hi":28},
  {"p":"e","s":"Al","x":3.7,"lo":8,"hi":11},{"p":"e","s":"Al","x":3.8,"lo":8.5,"hi":12.5},
  {"p":"e","s":"Fe","x":3.2,"lo":11.4,"hi":13.4},{"p":"e","s":"Fe","x":3.4,"lo":7.2,"hi":9.6},
  {"p":"f","s":"Ni","x":5.0,"lo":70.3,"hi":73.3},{"p":"f","s":"Ni","x":5.2,"lo":70.1,"hi":74.1},{"p":"f","s":"Ni","x":5.4,"lo":68.5,"hi":72.5},{"p":"f","s":"Ni","x":5.6,"lo":69.9,"hi":77.9},{"p":"f","s":"Ni","x":5.8,"lo":55,"hi":73},{"p":"f","s":"Ni","x":6.0,"lo":62,"hi":76},
  {"p":"f","s":"Ti","x":5.2,"lo":13,"hi":16.8},{"p":"f","s":"Ti","x":5.4,"lo":13,"hi":17.4},{"p":"f","s":"Ti","x":5.6,"lo":11,"hi":17},{"p":"f","s":"Ti","x":5.8,"lo":12,"hi":24},{"p":"f","s":"Ti","x":6.0,"lo":10,"hi":17},
  {"p":"f","s":"Al","x":5.2,"lo":5.7,"hi":8.7},{"p":"f","s":"Al","x":5.6,"lo":5.5,"hi":9.5},{"p":"f","s":"Al","x":5.8,"lo":4.5,"hi":8.7},{"p":"f","s":"Al","x":6.0,"lo":5,"hi":10.5},
  {"p":"f","s":"Mo","x":5.8,"lo":2,"hi":5},{"p":"f","s":"Mo","x":6.0,"lo":3,"hi":6}
 ],
 "notes": [
  {"p":"a","t":"NiAl\n800°C","x1":-3.744,"x2":-2.466,"y1":36.1,"y2":48.9,"tx":-3.53,"ty":44.6},
  {"p":"b","t":"Ni₃Ti\n800°C","x1":-3.83,"x2":-2.195,"y1":35.7,"y2":49.6,"tx":-3.53,"ty":44.6},
  {"p":"c","t":"NiAl\n900°C","x1":-3.744,"x2":-2.466,"y1":36.3,"y2":49.1,"tx":-3.53,"ty":44.8},
  {"p":"d","t":"Ni₃Ti\n900°C","x1":-3.83,"x2":-2.195,"y1":35.7,"y2":49.8,"tx":-3.53,"ty":44.7},
  {"p":"e","t":"NiAl\n1000°C","x1":-3.744,"x2":-2.30,"y1":36.3,"y2":49.1,"tx":-3.53,"ty":44.7},
  {"p":"f","t":"Ni₃Ti\n1000°C","x1":-3.83,"x2":-2.03,"y1":35.7,"y2":49.8,"tx":-3.53,"ty":44.7}
 ]
},
"columns": 2,
"spacing": {"row": 47, "column": 36},
"bounds": "flush",
"resolve": {"scale": {"color": "independent"}, "legend": {"color": "independent"}},
"concat": [
 {"width": 532, "height": 459, "layer": [
  {"data": {"name": "a"}, "transform": [{"fold": ["Fe","Ni","Cr","Ti","Al","Mo"], "as": ["s","v"]}],
   "mark": {"type": "line", "strokeWidth": 1.8, "clip": true, "strokeJoin": "round"},
   "encoding": {
    "x": {"field": "x", "type": "quantitative", "scale": {"domain": [-4,4], "nice": false, "zero": false}, "axis": {"values": [-4,-3,-2,-1,0,1,2,3,4], "format": "d", "title": null}},
    "y": {"field": "v", "type": "quantitative", "scale": {"domain": [0,85], "nice": false}, "axis": {"values": [0,10,20,30,40,50,60,70,80], "title": null}},
    "color": {"field": "s", "type": "nominal", "scale": {"domain": ["Fe","Ni","Cr","Ti","Al","Mo"], "range": ["#ff0000","#0000ff","#000000","#bf00bf","#ffa500","#90ee90"]}, "legend": null}}},
  {"data": {"name": "err"}, "transform": [{"filter": "datum.p == 'a'"}],
   "mark": {"type": "rule", "strokeWidth": 1.8, "clip": true},
   "encoding": {"x": {"field": "x", "type": "quantitative"}, "y": {"field": "lo", "type": "quantitative"}, "y2": {"field": "hi"}, "color": {"field": "s", "type": "nominal", "legend": null}}},
  {"data": {"name": "notes"}, "transform": [{"filter": "datum.p == 'a'"}],
   "mark": {"type": "rect", "fill": "white", "stroke": "#888888", "strokeWidth": 1},
   "encoding": {"x": {"field": "x1", "type": "quantitative"}, "x2": {"field": "x2"}, "y": {"field": "y1", "type": "quantitative"}, "y2": {"field": "y2"}}},
  {"data": {"name": "notes"}, "transform": [{"filter": "datum.p == 'a'"}],
   "mark": {"type": "text", "align": "left", "baseline": "middle", "lineBreak": "\n", "fontSize": 16.7, "lineHeight": 20, "color": "#000"},
   "encoding": {"x": {"field": "tx", "type": "quantitative"}, "y": {"field": "ty", "type": "quantitative"}, "text": {"field": "t"}}}
 ]},
 {"width": 532, "height": 459, "layer": [
  {"data": {"name": "b"}, "transform": [{"fold": ["Fe","Ni","Cr","Ti","Al","Mo"], "as": ["s","v"]}],
   "mark": {"type": "line", "strokeWidth": 1.8, "clip": true, "strokeJoin": "round"},
   "encoding": {
    "x": {"field": "x", "type": "quantitative", "scale": {"domain": [-4,6], "nice": false, "zero": false}, "axis": {"values": [-4,-2,0,2,4,6], "format": "d", "title": null}},
    "y": {"field": "v", "type": "quantitative", "scale": {"domain": [0,85], "nice": false}, "axis": {"values": [0,10,20,30,40,50,60,70,80], "labels": false, "title": null}},
    "color": {"field": "s", "type": "nominal", "scale": {"domain": ["Fe","Ni","Cr","Ti","Al","Mo"], "range": ["#ff0000","#0000ff","#000000","#bf00bf","#ffa500","#90ee90"]}, "legend": null}}},
  {"data": {"name": "err"}, "transform": [{"filter": "datum.p == 'b'"}],
   "mark": {"type": "rule", "strokeWidth": 1.8, "clip": true},
   "encoding": {"x": {"field": "x", "type": "quantitative"}, "y": {"field": "lo", "type": "quantitative"}, "y2": {"field": "hi"}, "color": {"field": "s", "type": "nominal", "legend": null}}},
  {"data": {"name": "notes"}, "transform": [{"filter": "datum.p == 'b'"}],
   "mark": {"type": "rect", "fill": "white", "stroke": "#888888", "strokeWidth": 1},
   "encoding": {"x": {"field": "x1", "type": "quantitative"}, "x2": {"field": "x2"}, "y": {"field": "y1", "type": "quantitative"}, "y2": {"field": "y2"}}},
  {"data": {"name": "notes"}, "transform": [{"filter": "datum.p == 'b'"}],
   "mark": {"type": "text", "align": "left", "baseline": "middle", "lineBreak": "\n", "fontSize": 16.7, "lineHeight": 22, "color": "#000"},
   "encoding": {"x": {"field": "tx", "type": "quantitative"}, "y": {"field": "ty", "type": "quantitative"}, "text": {"field": "t"}}}
 ]},
 {"width": 532, "height": 459, "layer": [
  {"data": {"name": "c"}, "transform": [{"fold": ["Fe","Ni","Cr","Ti","Al","Mo"], "as": ["s","v"]}],
   "mark": {"type": "line", "strokeWidth": 1.8, "clip": true, "strokeJoin": "round"},
   "encoding": {
    "x": {"field": "x", "type": "quantitative", "scale": {"domain": [-4,4], "nice": false, "zero": false}, "axis": {"values": [-4,-3,-2,-1,0,1,2,3,4], "format": "d", "title": null}},
    "y": {"field": "v", "type": "quantitative", "scale": {"domain": [0,85], "nice": false}, "axis": {"values": [0,10,20,30,40,50,60,70,80], "title": "Konzentration in at.%", "titleX": -58, "titleY": 262, "titleAngle": 270, "titleBaseline": "middle", "titleAlign": "center"}},
    "color": {"field": "s", "type": "nominal", "scale": {"domain": ["Fe","Ni","Cr","Ti","Al","Mo"], "range": ["#ff0000","#0000ff","#000000","#bf00bf","#ffa500","#90ee90"]}, "legend": null}}},
  {"data": {"name": "err"}, "transform": [{"filter": "datum.p == 'c'"}],
   "mark": {"type": "rule", "strokeWidth": 1.8, "clip": true},
   "encoding": {"x": {"field": "x", "type": "quantitative"}, "y": {"field": "lo", "type": "quantitative"}, "y2": {"field": "hi"}, "color": {"field": "s", "type": "nominal", "legend": null}}},
  {"data": {"name": "notes"}, "transform": [{"filter": "datum.p == 'c'"}],
   "mark": {"type": "rect", "fill": "white", "stroke": "#888888", "strokeWidth": 1},
   "encoding": {"x": {"field": "x1", "type": "quantitative"}, "x2": {"field": "x2"}, "y": {"field": "y1", "type": "quantitative"}, "y2": {"field": "y2"}}},
  {"data": {"name": "notes"}, "transform": [{"filter": "datum.p == 'c'"}],
   "mark": {"type": "text", "align": "left", "baseline": "middle", "lineBreak": "\n", "fontSize": 16.7, "lineHeight": 20, "color": "#000"},
   "encoding": {"x": {"field": "tx", "type": "quantitative"}, "y": {"field": "ty", "type": "quantitative"}, "text": {"field": "t"}}}
 ]},
 {"width": 532, "height": 459, "layer": [
  {"data": {"name": "d"}, "transform": [{"fold": ["Fe","Ni","Cr","Ti","Al","Mo"], "as": ["s","v"]}],
   "mark": {"type": "line", "strokeWidth": 1.8, "clip": true, "strokeJoin": "round"},
   "encoding": {
    "x": {"field": "x", "type": "quantitative", "scale": {"domain": [-4,6], "nice": false, "zero": false}, "axis": {"values": [-4,-2,0,2,4,6], "format": "d", "title": null}},
    "y": {"field": "v", "type": "quantitative", "scale": {"domain": [0,85], "nice": false}, "axis": {"values": [0,10,20,30,40,50,60,70,80], "labels": false, "title": null}},
    "color": {"field": "s", "type": "nominal", "scale": {"domain": ["Fe","Ni","Cr","Ti","Al","Mo"], "range": ["#ff0000","#0000ff","#000000","#bf00bf","#ffa500","#90ee90"]}, "legend": null}}},
  {"data": {"name": "err"}, "transform": [{"filter": "datum.p == 'd'"}],
   "mark": {"type": "rule", "strokeWidth": 1.8, "clip": true},
   "encoding": {"x": {"field": "x", "type": "quantitative"}, "y": {"field": "lo", "type": "quantitative"}, "y2": {"field": "hi"}, "color": {"field": "s", "type": "nominal", "legend": null}}},
  {"data": {"name": "notes"}, "transform": [{"filter": "datum.p == 'd'"}],
   "mark": {"type": "rect", "fill": "white", "stroke": "#888888", "strokeWidth": 1},
   "encoding": {"x": {"field": "x1", "type": "quantitative"}, "x2": {"field": "x2"}, "y": {"field": "y1", "type": "quantitative"}, "y2": {"field": "y2"}}},
  {"data": {"name": "notes"}, "transform": [{"filter": "datum.p == 'd'"}],
   "mark": {"type": "text", "align": "left", "baseline": "middle", "lineBreak": "\n", "fontSize": 16.7, "lineHeight": 22, "color": "#000"},
   "encoding": {"x": {"field": "tx", "type": "quantitative"}, "y": {"field": "ty", "type": "quantitative"}, "text": {"field": "t"}}}
 ]},
 {"width": 532, "height": 459, "layer": [
  {"data": {"name": "e"}, "transform": [{"fold": ["Fe","Ni","Cr","Ti","Al","Mo"], "as": ["s","v"]}],
   "mark": {"type": "line", "strokeWidth": 1.8, "clip": true, "strokeJoin": "round"},
   "encoding": {
    "x": {"field": "x", "type": "quantitative", "scale": {"domain": [-4,4], "nice": false, "zero": false}, "axis": {"values": [-4,-3,-2,-1,0,1,2,3,4], "format": "d", "title": "Abstand in nm", "titleX": 516, "titleY": 57, "titleBaseline": "middle", "titleAlign": "center"}},
    "y": {"field": "v", "type": "quantitative", "scale": {"domain": [0,85], "nice": false}, "axis": {"values": [0,10,20,30,40,50,60,70,80], "title": null}},
    "color": {"field": "s", "type": "nominal", "scale": {"domain": ["Fe","Ni","Cr","Ti","Al","Mo"], "range": ["#ff0000","#0000ff","#000000","#bf00bf","#ffa500","#90ee90"]}, "legend": null}}},
  {"data": {"name": "err"}, "transform": [{"filter": "datum.p == 'e'"}],
   "mark": {"type": "rule", "strokeWidth": 1.8, "clip": true},
   "encoding": {"x": {"field": "x", "type": "quantitative"}, "y": {"field": "lo", "type": "quantitative"}, "y2": {"field": "hi"}, "color": {"field": "s", "type": "nominal", "legend": null}}},
  {"data": {"name": "notes"}, "transform": [{"filter": "datum.p == 'e'"}],
   "mark": {"type": "rect", "fill": "white", "stroke": "#888888", "strokeWidth": 1},
   "encoding": {"x": {"field": "x1", "type": "quantitative"}, "x2": {"field": "x2"}, "y": {"field": "y1", "type": "quantitative"}, "y2": {"field": "y2"}}},
  {"data": {"name": "notes"}, "transform": [{"filter": "datum.p == 'e'"}],
   "mark": {"type": "text", "align": "left", "baseline": "middle", "lineBreak": "\n", "fontSize": 16.7, "lineHeight": 20, "color": "#000"},
   "encoding": {"x": {"field": "tx", "type": "quantitative"}, "y": {"field": "ty", "type": "quantitative"}, "text": {"field": "t"}}}
 ]},
 {"width": 532, "height": 459, "layer": [
  {"data": {"name": "f"}, "transform": [{"fold": ["Fe","Ni","Cr","Ti","Al","Mo"], "as": ["s","v"]}],
   "mark": {"type": "line", "strokeWidth": 1.8, "clip": true, "strokeJoin": "round"},
   "encoding": {
    "x": {"field": "x", "type": "quantitative", "scale": {"domain": [-4,6], "nice": false, "zero": false}, "axis": {"values": [-4,-2,0,2,4,6], "format": "d", "title": null}},
    "y": {"field": "v", "type": "quantitative", "scale": {"domain": [0,85], "nice": false}, "axis": {"values": [0,10,20,30,40,50,60,70,80], "labels": false, "title": null}},
    "color": {"field": "s", "type": "nominal", "scale": {"domain": ["Fe","Ni","Cr","Ti","Al","Mo"], "range": ["#ff0000","#0000ff","#000000","#bf00bf","#ffa500","#90ee90"]},
     "legend": {"orient": "none", "legendX": 439, "legendY": 151, "title": null, "symbolType": "M-1.7,0H1.7M0,-1V1", "symbolSize": 400, "symbolStrokeWidth": 2, "symbolFillColor": "transparent", "symbolOffset": 7, "labelOffset": 18.5, "labelFontSize": 14.5, "labelColor": "#000", "labelFont": "DejaVu Sans", "rowPadding": -2.4, "padding": 5, "strokeColor": "#cccccc", "fillColor": "rgba(255,255,255,0.8)", "cornerRadius": 3, "labelLimit": 0}}}},
  {"data": {"name": "err"}, "transform": [{"filter": "datum.p == 'f'"}],
   "mark": {"type": "rule", "strokeWidth": 1.8, "clip": true},
   "encoding": {"x": {"field": "x", "type": "quantitative"}, "y": {"field": "lo", "type": "quantitative"}, "y2": {"field": "hi"}, "color": {"field": "s", "type": "nominal", "legend": null}}},
  {"data": {"name": "notes"}, "transform": [{"filter": "datum.p == 'f'"}],
   "mark": {"type": "rect", "fill": "white", "stroke": "#888888", "strokeWidth": 1},
   "encoding": {"x": {"field": "x1", "type": "quantitative"}, "x2": {"field": "x2"}, "y": {"field": "y1", "type": "quantitative"}, "y2": {"field": "y2"}}},
  {"data": {"name": "notes"}, "transform": [{"filter": "datum.p == 'f'"}],
   "mark": {"type": "text", "align": "left", "baseline": "middle", "lineBreak": "\n", "fontSize": 16.7, "lineHeight": 22, "color": "#000"},
   "encoding": {"x": {"field": "tx", "type": "quantitative"}, "y": {"field": "ty", "type": "quantitative"}, "text": {"field": "t"}}}
 ]}
]
}
